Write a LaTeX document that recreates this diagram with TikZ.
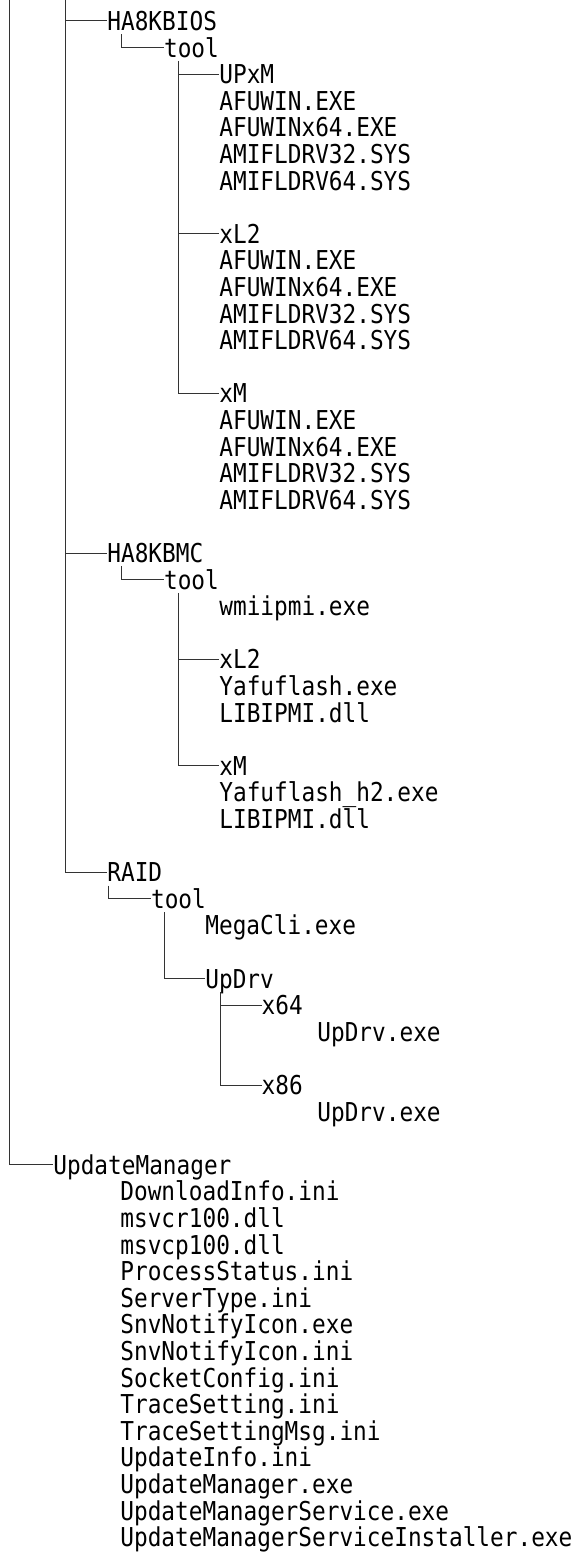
\documentclass[tikz,border=0pt]{standalone}
\usepackage{fontspec}
\newfontfamily\treefont[FakeStretch=0.875]{DejaVu Sans Mono}
\newcommand{\ry}[1]{-30.5-(#1-1)*26.6}
\newcommand{\rtop}[1]{-7.7-(#1-1)*26.6}
\tikzset{
  tx/.style={anchor=base west, inner sep=0pt, text height=19pt, text depth=0pt,
    font=\treefont\fontsize{26pt}{26pt}\selectfont},
  ln/.style={draw=black!80, line width=1pt}
}
\begin{document}
\begin{tikzpicture}[x=1pt,y=1pt]
\useasboundingbox (0,0) rectangle (587,-1555);
% ---- text nodes ----
\node[tx] (bios)  at (107.2,{\ry{1}})  {HA8KBIOS};
\node[tx] (tool1) at (163.9,{\ry{2}})  {tool};
\node[tx] (upxm)  at (219.2,{\ry{3}})  {UPxM};
\node[tx] (a1)    at (219.2,{\ry{4}})  {AFUWIN.EXE};
\node[tx] (a2)    at (219.2,{\ry{5}})  {AFUWINx64.EXE};
\node[tx] (a3)    at (219.2,{\ry{6}})  {AMIFLDRV32.SYS};
\node[tx] (a4)    at (219.2,{\ry{7}})  {AMIFLDRV64.SYS};
\node[tx] (xla)   at (219.2,{\ry{9}})  {xL2};
\node[tx] (b1)    at (219.2,{\ry{10}}) {AFUWIN.EXE};
\node[tx] (b2)    at (219.2,{\ry{11}}) {AFUWINx64.EXE};
\node[tx] (b3)    at (219.2,{\ry{12}}) {AMIFLDRV32.SYS};
\node[tx] (b4)    at (219.2,{\ry{13}}) {AMIFLDRV64.SYS};
\node[tx] (xma)   at (219.2,{\ry{15}}) {xM};
\node[tx] (c1)    at (219.2,{\ry{16}}) {AFUWIN.EXE};
\node[tx] (c2)    at (219.2,{\ry{17}}) {AFUWINx64.EXE};
\node[tx] (c3)    at (219.2,{\ry{18}}) {AMIFLDRV32.SYS};
\node[tx] (c4)    at (219.2,{\ry{19}}) {AMIFLDRV64.SYS};
\node[tx] (bmc)   at (107.2,{\ry{21}}) {HA8KBMC};
\node[tx] (tool2) at (163.9,{\ry{22}}) {tool};
\node[tx] (wmi)   at (219.2,{\ry{23}}) {wmiipmi.exe};
\node[tx] (xlb)   at (219.2,{\ry{25}}) {xL2};
\node[tx] (yf1)   at (219.2,{\ry{26}}) {Yafuflash.exe};
\node[tx] (lb1)   at (219.2,{\ry{27}}) {LIBIPMI.dll};
\node[tx] (xmb)   at (219.2,{\ry{29}}) {xM};
\node[tx] (yf2)   at (219.2,{\ry{30}}) {Yafuflash\_h2.exe};
\node[tx] (lb2)   at (219.2,{\ry{31}}) {LIBIPMI.dll};
\node[tx] (raid)  at (107.2,{\ry{33}}) {RAID};
\node[tx] (tool3) at (150.9,{\ry{34}}) {tool};
\node[tx] (mega)  at (205.2,{\ry{35}}) {MegaCli.exe};
\node[tx] (updrv) at (205.2,{\ry{37}}) {UpDrv};
\node[tx] (x64)   at (261.5,{\ry{38}}) {x64};
\node[tx] (ud1)   at (317.2,{\ry{39}}) {UpDrv.exe};
\node[tx] (x86)   at (261.5,{\ry{41}}) {x86};
\node[tx] (ud2)   at (317.2,{\ry{42}}) {UpDrv.exe};
\node[tx] (um)    at (53.2,{\ry{44}})  {UpdateManager};
\node[tx] (f1)  at (120.2,{\ry{45}}) {DownloadInfo.ini};
\node[tx] (f2)  at (120.2,{\ry{46}}) {msvcr100.dll};
\node[tx] (f3)  at (120.2,{\ry{47}}) {msvcp100.dll};
\node[tx] (f4)  at (120.2,{\ry{48}}) {ProcessStatus.ini};
\node[tx] (f5)  at (120.2,{\ry{49}}) {ServerType.ini};
\node[tx] (f6)  at (120.2,{\ry{50}}) {SnvNotifyIcon.exe};
\node[tx] (f7)  at (120.2,{\ry{51}}) {SnvNotifyIcon.ini};
\node[tx] (f8)  at (120.2,{\ry{52}}) {SocketConfig.ini};
\node[tx] (f9)  at (120.2,{\ry{53}}) {TraceSetting.ini};
\node[tx] (f10) at (120.2,{\ry{54}}) {TraceSettingMsg.ini};
\node[tx] (f11) at (120.2,{\ry{55}}) {UpdateInfo.ini};
\node[tx] (f12) at (120.2,{\ry{56}}) {UpdateManager.exe};
\node[tx] (f13) at (120.2,{\ry{57}}) {UpdateManagerService.exe};
\node[tx] (f14) at (120.2,{\ry{58}}) {UpdateManagerServiceInstaller.exe};
% ---- junction coordinates ----
\coordinate (v0) at (9.3,0);
\coordinate (v1) at (65.7,0);
\coordinate (t1) at (121.7,{\rtop{2}});
\coordinate (v2) at (178.3,{\rtop{3}});
\coordinate (t2) at (121.7,{\rtop{22}});
\coordinate (v3) at (178.3,{\rtop{23}});
\coordinate (t3) at (108.3,{\rtop{34}});
\coordinate (v4) at (164,{\rtop{35}});
\coordinate (v5) at (220,{\rtop{38}});
% ---- connectors ----
\draw[ln] (v0) |- (um.west);
\draw[ln] (v1) |- (raid.west);
\draw[ln] (v1 |- bios.west) -- (bios.west);
\draw[ln] (v1 |- bmc.west) -- (bmc.west);
\draw[ln] (t1) |- (tool1.west);
\draw[ln] (v2) |- (xma.west);
\draw[ln] (v2 |- upxm.west) -- (upxm.west);
\draw[ln] (v2 |- xla.west) -- (xla.west);
\draw[ln] (t2) |- (tool2.west);
\draw[ln] (v3) |- (xmb.west);
\draw[ln] (v3 |- xlb.west) -- (xlb.west);
\draw[ln] (t3) |- (tool3.west);
\draw[ln] (v4) |- (updrv.west);
\draw[ln] (v5) |- (x86.west);
\draw[ln] (v5 |- x64.west) -- (x64.west);
\end{tikzpicture}
\end{document}
